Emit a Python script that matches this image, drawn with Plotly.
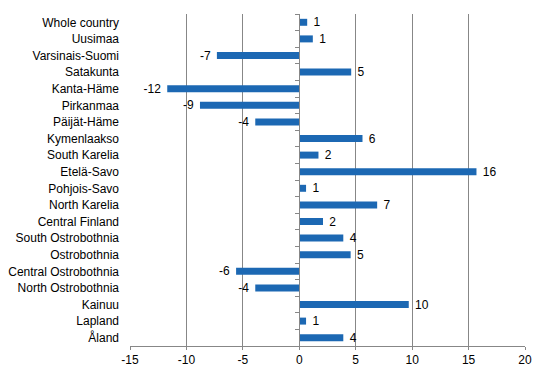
import plotly.graph_objects as go

categories = ["Whole country", "Uusimaa", "Varsinais-Suomi", "Satakunta", "Kanta-Häme",
              "Pirkanmaa", "Päijät-Häme", "Kymenlaakso", "South Karelia", "Etelä-Savo",
              "Pohjois-Savo", "North Karelia", "Central Finland", "South Ostrobothnia",
              "Ostrobothnia", "Central Ostrobothnia", "North Ostrobothnia", "Kainuu",
              "Lapland", "Åland"]
values = [0.7, 1.2, -7.3, 4.6, -11.7, -8.8, -3.9, 5.6, 1.7, 15.7,
          0.6, 6.9, 2.1, 3.9, 4.55, -5.6, -3.9, 9.7, 0.6, 3.9]
x_ticks = [-15, -10, -5, 0, 5, 10, 15, 20]
x_tick_labels = ["-15", "-10", "-5", "0", "5", "10", "15", "20"]

GRAY = "#878787"
BAR = "#1c68b3"
FONT = "Liberation Sans, Arial, sans-serif"
NB = "\u00a0"

pos = list(range(len(categories)))
labels = [(NB + str(int(round(v)))) if v >= 0 else (str(int(round(v))) + NB) for v in values]

fig = go.Figure()
fig.add_trace(go.Bar(
    x=values, y=pos, orientation="h", marker=dict(color=BAR, line=dict(width=0)),
    text=labels, textposition="outside", cliponaxis=False, constraintext="none",
    textfont=dict(family=FONT, size=12, color="#000000"),
    width=0.42, showlegend=False, hoverinfo="skip",
))
fig.add_trace(go.Scatter(x=[0], y=[0], yaxis="y2", mode="markers",
                         marker=dict(opacity=0), showlegend=False, hoverinfo="skip"))

n = len(categories)
fig.update_layout(
    width=546, height=376,
    margin=dict(l=130, r=21, t=14, b=30),
    paper_bgcolor="white", plot_bgcolor="white",
    font=dict(family=FONT, size=12, color="#000000"),
    xaxis=dict(range=[x_ticks[0], x_ticks[-1]], tickvals=x_ticks, ticktext=x_tick_labels,
               showgrid=True, automargin=False,
               gridcolor=GRAY, gridwidth=1, showline=True, linecolor=GRAY, linewidth=1,
               ticks="outside", ticklen=3, tickcolor=GRAY, zeroline=False,
               tickfont=dict(size=12)),
    yaxis=dict(range=[n - 0.5, -0.5], tickvals=pos, ticktext=categories, showgrid=False,
               automargin=False,
               zeroline=False, showline=False, ticks="", ticklabelstandoff=10,
               tickfont=dict(size=12)),
    yaxis2=dict(overlaying="y", anchor="free", side="left", automargin=False,
                position=(0 - x_ticks[0]) / (x_ticks[-1] - x_ticks[0]),
                range=[n - 0.5, -0.5], tickvals=[i - 0.5 for i in range(n + 1)],
                ticks="outside", ticklen=4, tickcolor=GRAY, showticklabels=False,
                showline=True, linecolor=GRAY, linewidth=1, showgrid=False, zeroline=False),
)

fig.write_html("out.html", config={"displayModeBar": False},
               post_script="document.body.style.margin='0';")
